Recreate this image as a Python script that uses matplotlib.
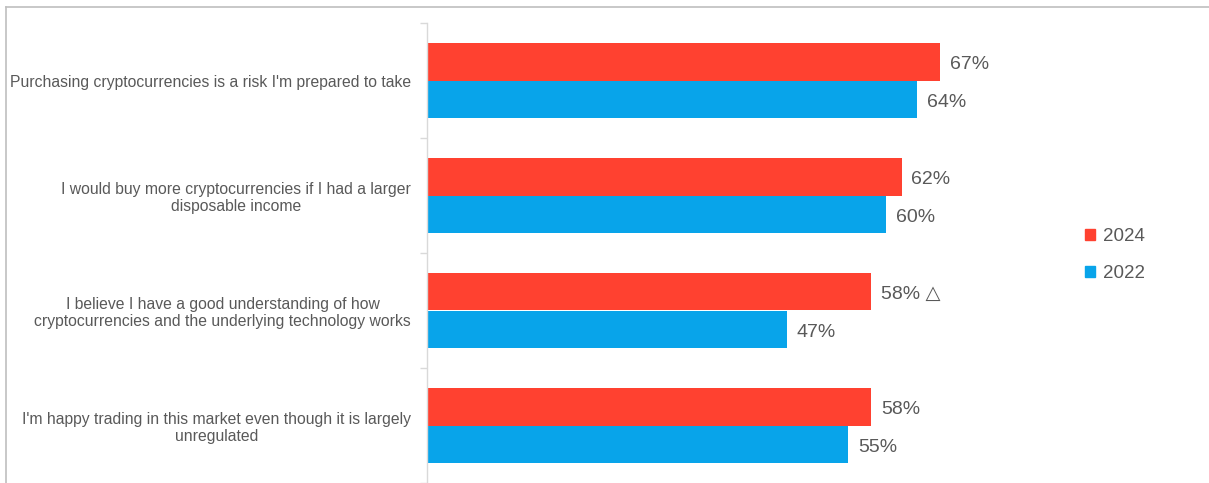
import matplotlib
matplotlib.use("Agg")
import matplotlib.pyplot as plt
from matplotlib.lines import Line2D
import numpy as np

plt.rcParams['font.family'] = ['Liberation Sans', 'DejaVu Sans']

categories = [
    "Purchasing cryptocurrencies is a risk I'm prepared to take",
    "I would buy more cryptocurrencies if I had a larger\ndisposable income",
    "I believe I have a good understanding of how\ncryptocurrencies and the underlying technology works",
    "I'm happy trading in this market even though it is largely\nunregulated",
]
values_2024 = [67, 62, 58, 58]
values_2022 = [64, 60, 47, 55]
labels_2024 = ["67%", "62%", "58% \u25b3", "58%"]
labels_2022 = ["64%", "60%", "47%", "55%"]
series_names = ["2024", "2022"]

red = "#FF4130"
blue = "#08A4EA"
text_color = "#595959"
axis_color = "#D9D9D9"

W, H = 1209, 483
fig = plt.figure(figsize=(W / 100, H / 100), dpi=100)
ax_left, ax_right, ax_top, ax_bottom = 427, 1050, 23, 483
ax = fig.add_axes([ax_left / W, 1 - ax_bottom / H, (ax_right - ax_left) / W, (ax_bottom - ax_top) / H])

y = np.arange(len(categories))
bh = 0.33
b1 = ax.barh(y - bh / 2, values_2024, height=bh, color=red, label=series_names[0])
b2 = ax.barh(y + bh / 2, values_2022, height=bh, color=blue, label=series_names[1])

for bars, labs in ((b1, labels_2024), (b2, labels_2022)):
    for bar, lab in zip(bars, labs):
        ax.annotate(lab, (bar.get_width(), bar.get_y() + bar.get_height() / 2),
                    xytext=(7, -2), textcoords="offset points", ha="left", va="center",
                    fontsize=14, color=text_color)

xmax = (ax_right - ax_left) / ((940 - 427) / 67)
ax.set_xlim(0, xmax)
ax.set_ylim(len(categories) - 0.5, -0.5)

ax.set_yticks(y)
ax.set_yticklabels(categories, fontsize=11.35, color=text_color)
for t in ax.get_yticklabels():
    t.set_multialignment('center')
ax.tick_params(axis='y', which='major', length=0, pad=11.5)
ax.set_yticks(np.arange(-0.5, len(categories) + 0.5, 1), minor=True)
ax.tick_params(axis='y', which='minor', length=5, color=axis_color, width=1)
ax.set_xticks([])

for s in ['top', 'right', 'bottom']:
    ax.spines[s].set_visible(False)
ax.spines['left'].set_color(axis_color)
ax.spines['left'].set_linewidth(1)

handles = [plt.Rectangle((0, 0), 1, 1, color=red), plt.Rectangle((0, 0), 1, 1, color=blue)]
leg = fig.legend(handles, series_names, loc='center left',
                 bbox_to_anchor=(1068 / W, 1 - 255 / H), frameon=False,
                 fontsize=13.5, handlelength=0.55, handleheight=0.55, handletextpad=0.4,
                 labelspacing=1.05, labelcolor=text_color)

# outer border (top and left)
fig.add_artist(Line2D([6 / W, 1], [1 - 7 / H, 1 - 7 / H], color="#BFBFBF", lw=1.2, transform=fig.transFigure))
fig.add_artist(Line2D([6 / W, 6 / W], [0, 1 - 7 / H], color="#BFBFBF", lw=1.2, transform=fig.transFigure))

fig.savefig("out.png", dpi=100)
